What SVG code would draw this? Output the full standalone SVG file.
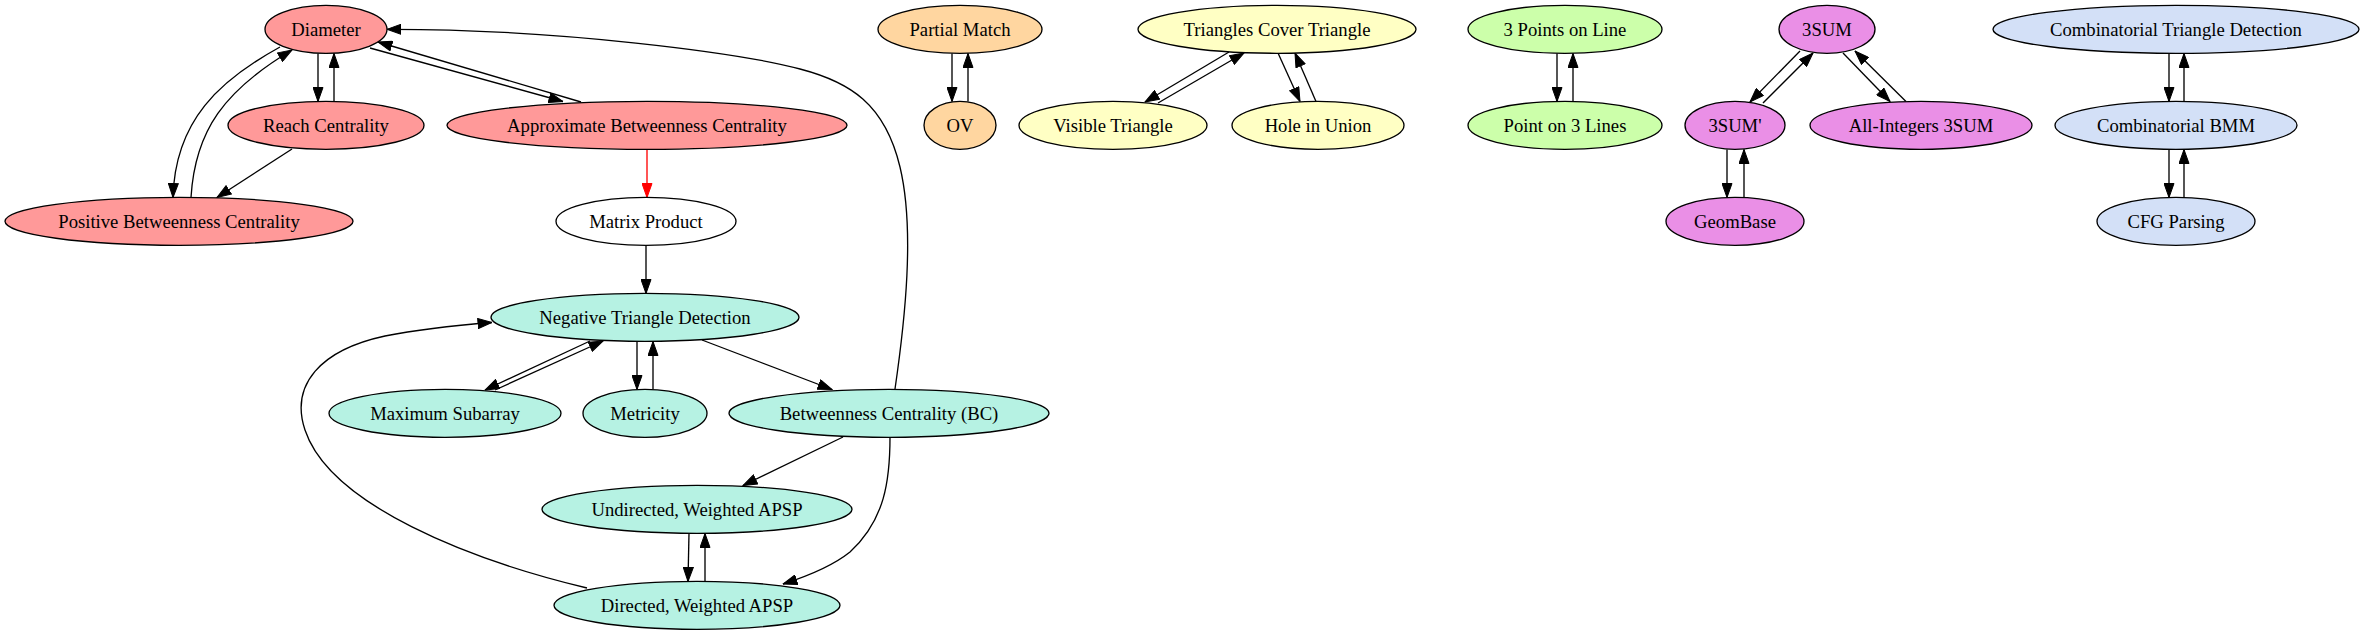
<svg xmlns="http://www.w3.org/2000/svg" width="2364" height="635" viewBox="0 0 2364 635">
<style>
  .n ellipse { stroke: #000; stroke-width: 1.33; }
  .n text { font-family: "Liberation Serif", "Times New Roman", serif; font-size: 18.67px; text-anchor: middle; fill: #000; }
  .red ellipse { fill: #ff9999; }
  .org ellipse { fill: #ffd6a0; }
  .yel ellipse { fill: #ffffc4; }
  .grn ellipse { fill: #ccffaa; }
  .mag ellipse { fill: #ea8fe6; }
  .blu ellipse { fill: #d3e0f7; }
  .tea ellipse { fill: #b6f2e3; }
  .wht ellipse { fill: #ffffff; }
  #edges path { fill: none; stroke: #000; stroke-width: 1.33; marker-end: url(#ah); }
  #edges path.r { stroke: #ff0000; marker-end: url(#ahr); }
</style>
<defs>
  <marker id="ah" markerUnits="userSpaceOnUse" viewBox="0 0 15 11" refX="14.5" refY="5.5" markerWidth="15" markerHeight="11" orient="auto">
    <path d="M0.5,0.5 L14.5,5.5 L0.5,10.5 z" fill="#000" stroke="#000" stroke-width="1"/>
  </marker>
  <marker id="ahr" markerUnits="userSpaceOnUse" viewBox="0 0 15 11" refX="14.5" refY="5.5" markerWidth="15" markerHeight="11" orient="auto">
    <path d="M0.5,0.5 L14.5,5.5 L0.5,10.5 z" fill="#ff0000" stroke="#ff0000" stroke-width="1"/>
  </marker>
</defs>
<rect width="2364" height="635" fill="#fff"/>

<g id="edges">
  <path d="M318,53.5 L318,101.5"/>
  <path d="M334,101.5 L334,53.5"/>
  <path d="M280,47 C220,80 175,120 173,197.5"/>
  <path d="M191,197.5 C195,130 225,90 292,50"/>
  <path d="M292,149 L217,197.5"/>
  <path d="M370,48 L563,101.5"/>
  <path d="M581,102 L378,42"/>
  <path class="r" d="M647,149.5 L647,197.5"/>
  <path d="M646,245.5 L646,293.5"/>
  <path d="M590,341 L485,390"/>
  <path d="M495,390 L603,341"/>
  <path d="M637,341.5 L637,389.5"/>
  <path d="M653,389.5 L653,341.5"/>
  <path d="M702,340 L832,389.5"/>
  <path d="M843,437 L743,485.5"/>
  <path d="M890,437 C890,480 885,520 850,552 C830,568 805,577 783,584"/>
  <path d="M895,389 C905,320 915,230 900,167 C885,104 850,82 800,69 C740,53 560,29 387,29.3"/>
  <path d="M689,533.5 L688,581.5"/>
  <path d="M705,581.5 L705,533.5"/>
  <path d="M587,588 C470,560 330,505 305,430 C290,385 320,350 385,336 C425,328 460,325 492,322.5"/>
  <path d="M952,53.5 L952,101.5"/>
  <path d="M968,101.5 L968,53.5"/>
  <path d="M1229,52 L1145,102"/>
  <path d="M1158,103 L1244,53"/>
  <path d="M1278,53 L1300,101.5"/>
  <path d="M1316,101.5 L1295,53"/>
  <path d="M1557,53.5 L1557,101.5"/>
  <path d="M1573,101.5 L1573,53.5"/>
  <path d="M1800,51 L1750,102"/>
  <path d="M1763,103 L1813,53"/>
  <path d="M1843,53 L1890,101.5"/>
  <path d="M1906,101.5 L1855,51"/>
  <path d="M1727,149.5 L1727,197.5"/>
  <path d="M1744,197.5 L1744,149.5"/>
  <path d="M2169,53.5 L2169,101.5"/>
  <path d="M2184,101.5 L2184,53.5"/>
  <path d="M2169,149.5 L2169,197.5"/>
  <path d="M2184,197.5 L2184,149.5"/>
</g>

<g id="diameter" class="n red"><ellipse cx="326" cy="29.3" rx="61" ry="24"/><text x="326" y="35.5">Diameter</text></g>
<g id="reach" class="n red"><ellipse cx="326" cy="125.3" rx="98" ry="24"/><text x="326" y="131.5">Reach Centrality</text></g>
<g id="abc" class="n red"><ellipse cx="647" cy="125.3" rx="200" ry="24"/><text x="647" y="131.5">Approximate Betweenness Centrality</text></g>
<g id="pbc" class="n red"><ellipse cx="179" cy="221.3" rx="174" ry="24"/><text x="179" y="227.5">Positive Betweenness Centrality</text></g>
<g id="mp" class="n wht"><ellipse cx="646" cy="221.3" rx="90" ry="24"/><text x="646" y="227.5">Matrix Product</text></g>
<g id="ntd" class="n tea"><ellipse cx="645" cy="317.3" rx="154" ry="24"/><text x="645" y="323.5">Negative Triangle Detection</text></g>
<g id="ms" class="n tea"><ellipse cx="445" cy="413.3" rx="116" ry="24"/><text x="445" y="419.5">Maximum Subarray</text></g>
<g id="met" class="n tea"><ellipse cx="645" cy="413.3" rx="62" ry="24"/><text x="645" y="419.5">Metricity</text></g>
<g id="bc" class="n tea"><ellipse cx="889" cy="413.3" rx="160" ry="24"/><text x="889" y="419.5">Betweenness Centrality (BC)</text></g>
<g id="ua" class="n tea"><ellipse cx="697" cy="509.3" rx="155" ry="24"/><text x="697" y="515.5">Undirected, Weighted APSP</text></g>
<g id="da" class="n tea"><ellipse cx="697" cy="605.3" rx="143" ry="24"/><text x="697" y="611.5">Directed, Weighted APSP</text></g>
<g id="pm" class="n org"><ellipse cx="960" cy="29.3" rx="82" ry="24"/><text x="960" y="35.5">Partial Match</text></g>
<g id="ov" class="n org"><ellipse cx="960" cy="125.3" rx="36" ry="24"/><text x="960" y="131.5">OV</text></g>
<g id="tct" class="n yel"><ellipse cx="1277" cy="29.3" rx="139" ry="24"/><text x="1277" y="35.5">Triangles Cover Triangle</text></g>
<g id="vt" class="n yel"><ellipse cx="1113" cy="125.3" rx="94" ry="24"/><text x="1113" y="131.5">Visible Triangle</text></g>
<g id="hiu" class="n yel"><ellipse cx="1318" cy="125.3" rx="86" ry="24"/><text x="1318" y="131.5">Hole in Union</text></g>
<g id="p3l" class="n grn"><ellipse cx="1565" cy="29.3" rx="97" ry="24"/><text x="1565" y="35.5">3 Points on Line</text></g>
<g id="po3l" class="n grn"><ellipse cx="1565" cy="125.3" rx="97" ry="24"/><text x="1565" y="131.5">Point on 3 Lines</text></g>
<g id="sum3" class="n mag"><ellipse cx="1827" cy="29.3" rx="48" ry="24"/><text x="1827" y="35.5">3SUM</text></g>
<g id="sum3p" class="n mag"><ellipse cx="1735" cy="125.3" rx="50" ry="24"/><text x="1735" y="131.5">3SUM'</text></g>
<g id="ai3" class="n mag"><ellipse cx="1921" cy="125.3" rx="111" ry="24"/><text x="1921" y="131.5">All-Integers 3SUM</text></g>
<g id="geom" class="n mag"><ellipse cx="1735" cy="221.3" rx="69" ry="24"/><text x="1735" y="227.5">GeomBase</text></g>
<g id="ctd" class="n blu"><ellipse cx="2176" cy="29.3" rx="183" ry="24"/><text x="2176" y="35.5">Combinatorial Triangle Detection</text></g>
<g id="cbmm" class="n blu"><ellipse cx="2176" cy="125.3" rx="121" ry="24"/><text x="2176" y="131.5">Combinatorial BMM</text></g>
<g id="cfg" class="n blu"><ellipse cx="2176" cy="221.3" rx="79" ry="24"/><text x="2176" y="227.5">CFG Parsing</text></g>
</svg>
